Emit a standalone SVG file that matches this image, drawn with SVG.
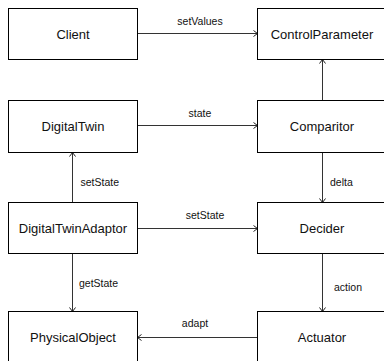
<svg xmlns="http://www.w3.org/2000/svg" width="384" height="361" viewBox="0 0 384 361">
<defs>
<marker id="arr" markerWidth="6" markerHeight="8" refX="5" refY="4" orient="auto" markerUnits="userSpaceOnUse">
<path d="M1,1 L5,4 L1,7" fill="none" stroke="#222" stroke-width="1"/>
</marker>
</defs>
<style>
.box{fill:#fff;stroke:#000;stroke-width:1}
.lbl{font-family:"Liberation Sans",Arial,sans-serif;font-size:13px;fill:#111;text-anchor:middle;dominant-baseline:central}
.el{font-family:"Liberation Sans",Arial,sans-serif;font-size:10.5px;fill:#111}
.c{fill:none;stroke:#333;stroke-width:1;marker-end:url(#arr)}
</style>
<rect width="384" height="361" fill="#fff"/>
<g id="connectors">
<line class="c" x1="137.5" y1="33.5" x2="257.5" y2="33.5"/>
<line class="c" x1="322.5" y1="100.5" x2="322.5" y2="59.5"/>
<line class="c" x1="137.5" y1="125.5" x2="257.5" y2="125.5"/>
<line class="c" x1="72.5" y1="202.5" x2="72.5" y2="152.5"/>
<line class="c" x1="322.5" y1="152.5" x2="322.5" y2="202.5"/>
<line class="c" x1="137.5" y1="228.5" x2="257.5" y2="228.5"/>
<line class="c" x1="72.5" y1="253.5" x2="72.5" y2="311.5"/>
<line class="c" x1="322.5" y1="253.5" x2="322.5" y2="311.5"/>
<line class="c" x1="257.5" y1="337.5" x2="137.5" y2="337.5"/>
<text class="el" x="200" y="25" text-anchor="middle">setValues</text>
<text class="el" x="200" y="117" text-anchor="middle">state</text>
<text class="el" x="80.5" y="186">setState</text>
<text class="el" x="330" y="186">delta</text>
<text class="el" x="205" y="219" text-anchor="middle">setState</text>
<text class="el" x="79" y="287">getState</text>
<text class="el" x="334" y="291">action</text>
<text class="el" x="195" y="327" text-anchor="middle">adapt</text>
</g>
<g id="client"><rect class="box" x="8.5" y="8.5" width="129" height="51"/><text class="lbl" x="73" y="34">Client</text></g>
<g id="controlparameter"><rect class="box" x="257.5" y="8.5" width="129" height="51"/><text class="lbl" x="322" y="34">ControlParameter</text></g>
<g id="digitaltwin"><rect class="box" x="8.5" y="100.5" width="129" height="52"/><text class="lbl" x="73" y="126">DigitalTwin</text></g>
<g id="comparitor"><rect class="box" x="257.5" y="100.5" width="129" height="52"/><text class="lbl" x="322" y="126">Comparitor</text></g>
<g id="digitaltwinadaptor"><rect class="box" x="8.5" y="202.5" width="129" height="51"/><text class="lbl" x="73" y="228">DigitalTwinAdaptor</text></g>
<g id="decider"><rect class="box" x="257.5" y="202.5" width="129" height="51"/><text class="lbl" x="322" y="228">Decider</text></g>
<g id="physicalobject"><rect class="box" x="8.5" y="311.5" width="129" height="51"/><text class="lbl" x="73" y="337">PhysicalObject</text></g>
<g id="actuator"><rect class="box" x="257.5" y="311.5" width="129" height="51"/><text class="lbl" x="322" y="337">Actuator</text></g>
</svg>
